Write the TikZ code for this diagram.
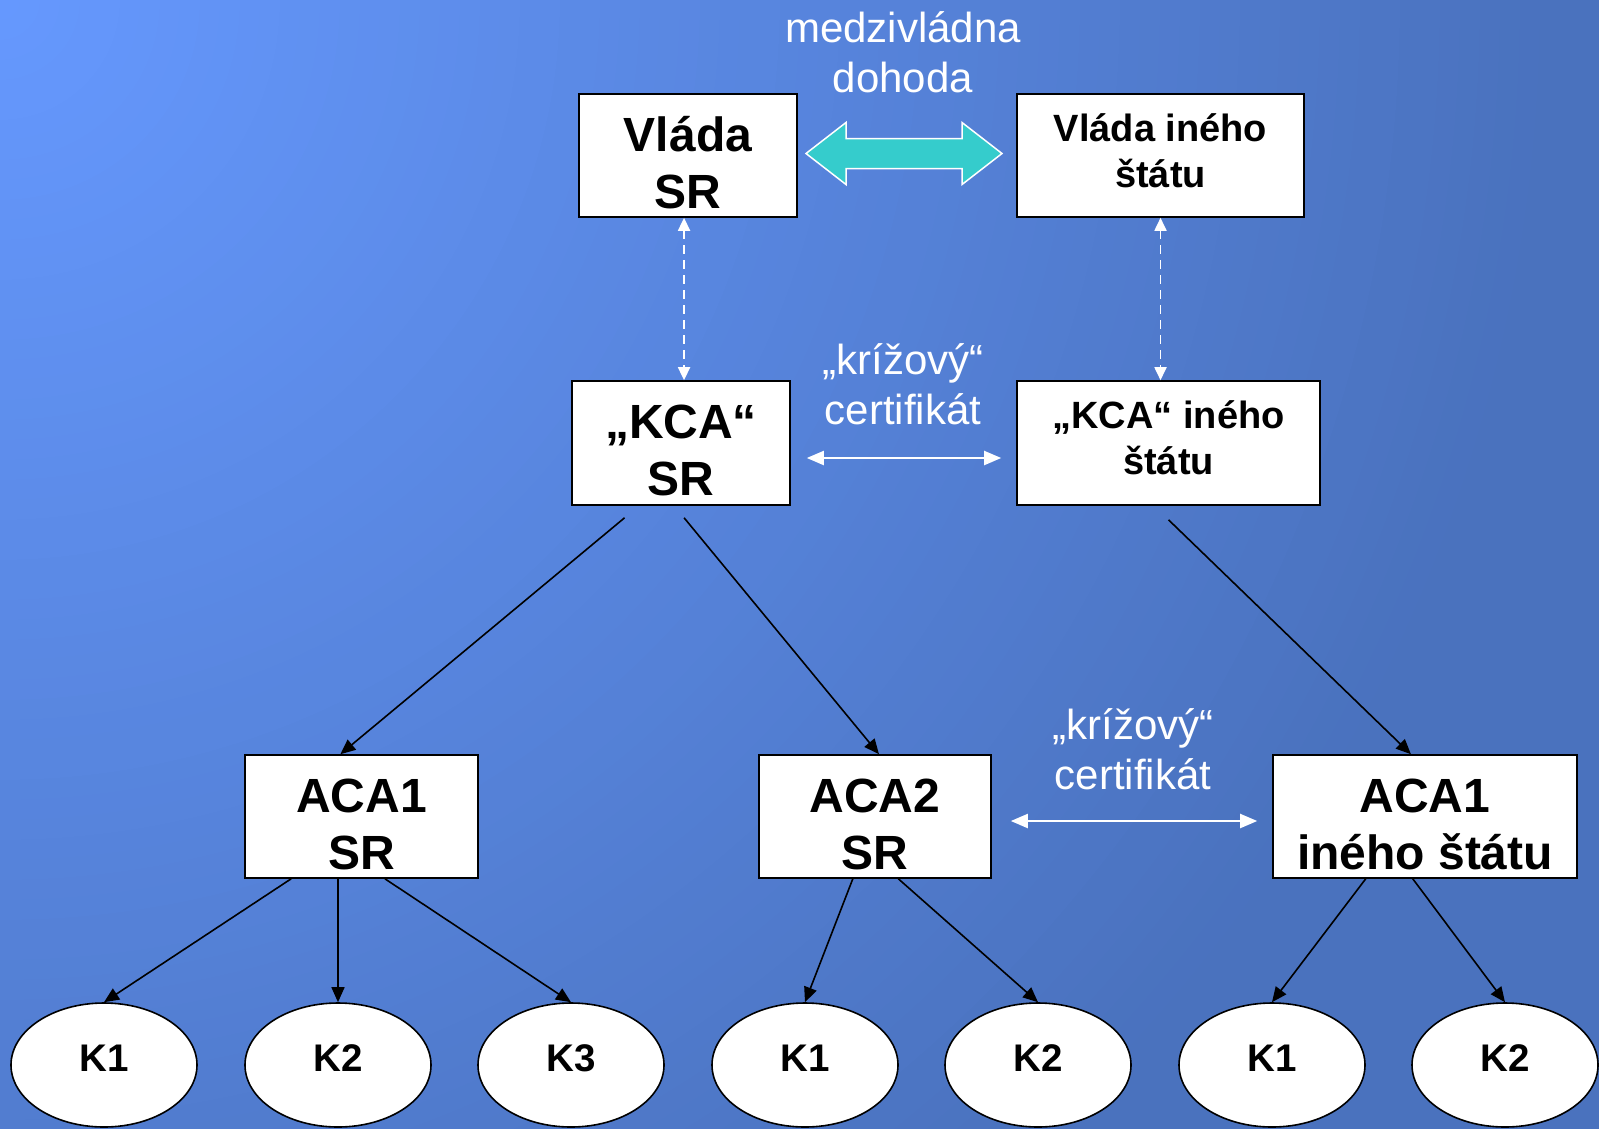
\documentclass[tikz,border=0pt]{standalone}
\usepackage{fontspec}
\setmainfont{Liberation Sans}
\usetikzlibrary{arrows.meta,calc,shapes.geometric}

\definecolor{bgtop}{HTML}{6699FF}
\definecolor{bgbot}{HTML}{4A72BE}
\definecolor{agreeteal}{HTML}{35CCCC}

\tikzset{
  box/.style={draw=black, line width=1.6pt, fill=white, inner sep=0pt, align=center},
  bigtxt/.style={font=\bfseries\fontsize{48}{57}\selectfont, text height=105.6pt, text depth=0pt},
  smalltxt/.style={font=\bfseries\fontsize{38}{46}\selectfont, text height=63.3pt, text depth=0pt},
  leaf/.style={ellipse, draw=black, line width=1.6pt, fill=white,
    minimum width=186pt, minimum height=124pt, inner sep=0pt, text depth=14pt,
    font=\bfseries\fontsize{38.5}{44}\selectfont},
  note/.style={text=white, align=center, inner sep=0pt, font=\fontsize{42}{50}\selectfont},
  link/.style={-{Triangle[width=13pt,length=15pt]}, line width=1.6pt, black},
  cross/.style={{Triangle[width=14pt,length=17pt]}-{Triangle[width=14pt,length=17pt]},
    white, line width=2pt},
  dashlink/.style={{Triangle[width=12pt,length=13pt]}-{Triangle[width=12pt,length=13pt]},
    white, line width=1.8pt, dash pattern=on 9pt off 6pt}
}

\begin{document}
\begin{tikzpicture}[x=1pt,y=-1pt]
  \useasboundingbox (0,0) rectangle (1599,1128);

  % background: radial gradient from the upper left corner, built from stacked discs
  \begin{scope}
    \clip (-4,-4) rectangle (1603,1132);
    \fill[bgbot] (-4,-4) rectangle (1603,1132);
    \foreach \k in {0,...,77} {
      \pgfmathsetmacro\rad{1560*(1-\k/78)}
      \pgfmathtruncatemacro\pct{100*\k/78}
      \fill[bgtop!\pct!bgbot] (0,0) circle (\rad pt);
    }
  \end{scope}

  % governments
  \node[box, bigtxt, minimum width=218pt, minimum height=123pt] (vsr) at (688,155.5) {Vláda\\SR};
  \node[box, smalltxt, minimum width=287pt, minimum height=123pt] (vin) at (1160.5,155.5) {Vláda iného\\štátu};

  % root certification authorities
  \node[box, bigtxt, minimum width=218pt, minimum height=124pt] (ksr) at (681,443) {„KCA“\\SR};
  \node[box, smalltxt, minimum width=303pt, minimum height=124pt] (kin) at (1168.5,443) {„KCA“ iného\\štátu};

  % accredited certification authorities
  \node[box, bigtxt, minimum width=233pt, minimum height=123pt] (a1) at (361.5,816.5) {ACA1\\SR};
  \node[box, bigtxt, minimum width=232pt, minimum height=123pt] (a2) at (875,816.5) {ACA2\\SR};
  \node[box, bigtxt, minimum width=304pt, minimum height=123pt] (a3) at (1425,816.5) {ACA1\\iného štátu};

  % clients
  \node[leaf] (l1) at (104,1065) {K1};
  \node[leaf] (l2) at (338,1065) {K2};
  \node[leaf] (l3) at (571,1065) {K3};
  \node[leaf] (l4) at (805,1065) {K1};
  \node[leaf] (l5) at (1038,1065) {K2};
  \node[leaf] (l6) at (1272,1065) {K1};
  \node[leaf] (l7) at (1505,1065) {K2};

  % labels
  \node[note] (t1) at (903,52) {medzivládna\\dohoda};
  \node[note] (t2) at (903,384) {„krížový“\\certifikát};
  \node[note] (t3) at (1133,749) {„krížový“\\certifikát};

  % intergovernmental agreement arrow
  \coordinate (ta) at ($(vsr.east)!0.5!(vin.west)+(-3,-2)$);
  \begin{scope}[shift={(ta)}]
    \filldraw[fill=agreeteal, draw=white, line width=1.5pt, line join=miter]
      (-98,0) -- (-58,-31) -- (-58,-15) -- (58,-15) -- (58,-31) -- (98,0)
      -- (58,31) -- (58,15) -- (-58,15) -- (-58,31) -- cycle;
  \end{scope}

  % dashed links between governments and root CAs
  \coordinate (d1) at ($(vsr.south west)!0.482!(vsr.south east)$);
  \draw[dashlink] (d1) -- (d1 |- ksr.north);
  \draw[dashlink] (vin.south) -- (vin.south |- kin.north);

  % cross certificates
  \draw[cross] ($(ksr.east)+(16,15)$) -- ($(kin.west)+(-15,15)$);
  \draw[cross] ($(a2.east)+(19,4.5)$) -- ($(a3.west)+(-15,4.5)$);

  % hierarchy
  \draw[link] ($(ksr.south west)!0.243!(ksr.south east)+(0,12)$) -- ($(a1.north west)!0.41!(a1.north east)$);
  \draw[link] ($(ksr.south west)!0.514!(ksr.south east)+(0,12)$) -- ($(a2.north west)!0.517!(a2.north east)$);
  \draw[link] ($(kin.south west)!0.50!(kin.south east)+(0,14)$) -- ($(a3.north west)!0.454!(a3.north east)$);

  \draw[link] ($(a1.south west)!0.20!(a1.south east)$) -- (l1.north);
  \draw[link] ($(a1.south west)!0.40!(a1.south east)$) -- (l2.north);
  \draw[link] ($(a1.south west)!0.60!(a1.south east)$) -- (l3.north);
  \draw[link] ($(a2.south west)!0.405!(a2.south east)$) -- (l4.north);
  \draw[link] ($(a2.south west)!0.60!(a2.south east)$) -- (l5.north);
  \draw[link] ($(a3.south west)!0.306!(a3.south east)$) -- (l6.north);
  \draw[link] ($(a3.south west)!0.46!(a3.south east)$) -- (l7.north);
\end{tikzpicture}
\end{document}
